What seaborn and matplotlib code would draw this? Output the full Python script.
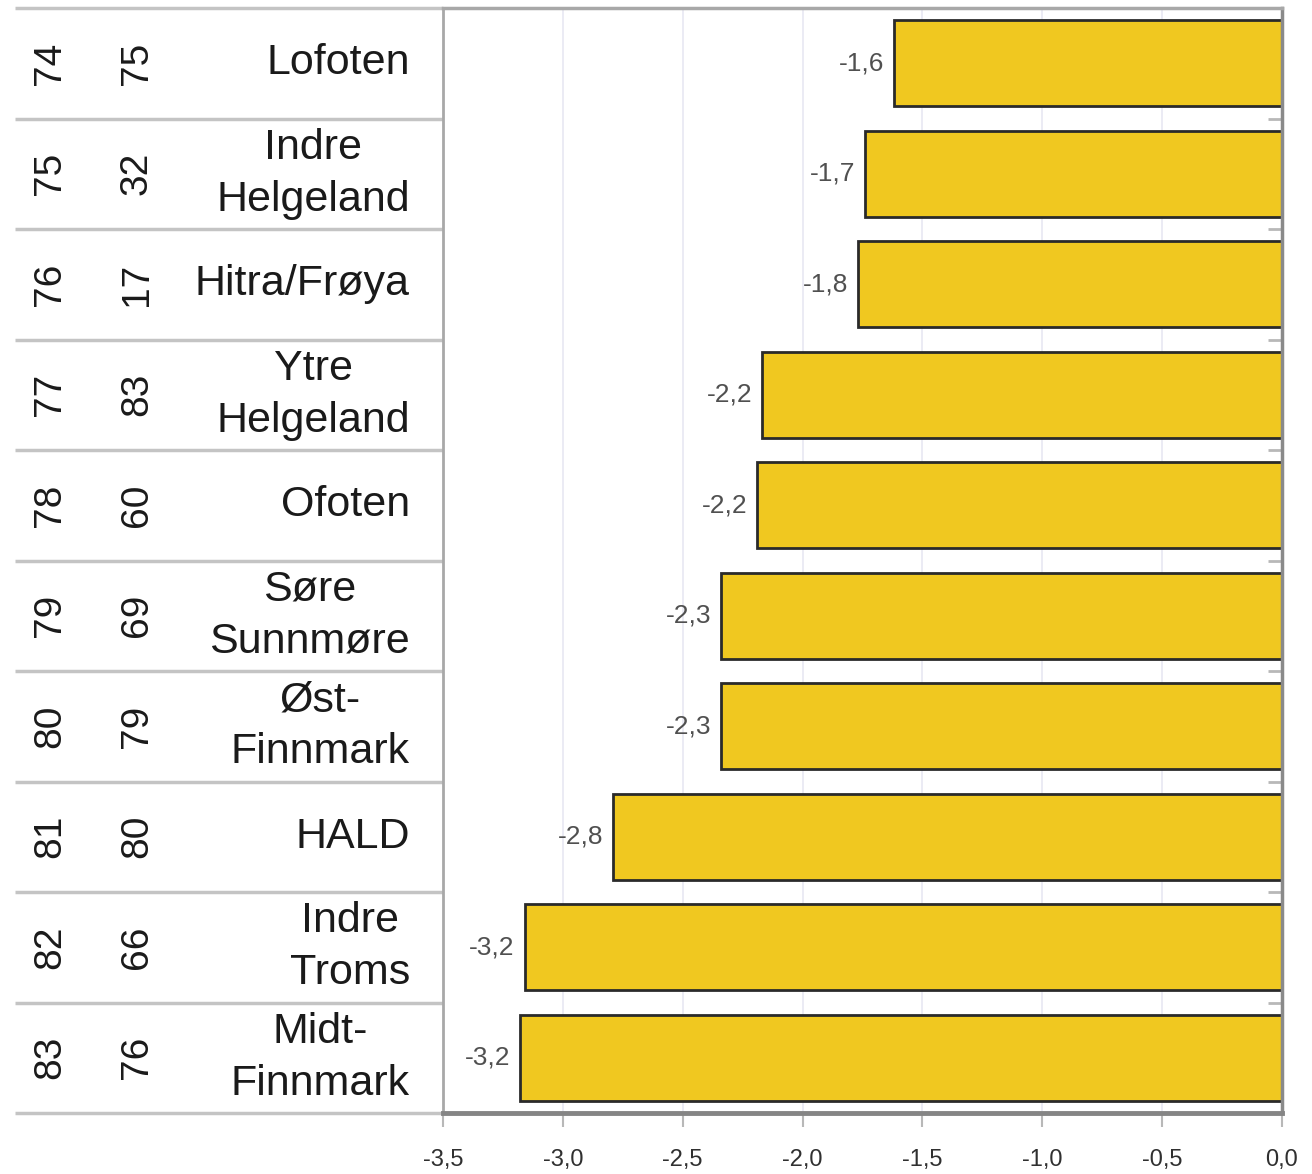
import matplotlib
matplotlib.use('Agg')
import matplotlib.pyplot as plt
import matplotlib.transforms as mtransforms
from matplotlib.ticker import FixedLocator
import seaborn as sns
import pandas as pd

regions = ['Lofoten', 'Indre\nHelgeland', 'Hitra/Frøya', 'Ytre\nHelgeland', 'Ofoten',
           'Søre\nSunnmøre', 'Øst-\nFinnmark', 'HALD', 'Indre\nTroms', 'Midt-\nFinnmark']
rank_a = [74, 75, 76, 77, 78, 79, 80, 81, 82, 83]
rank_b = [75, 32, 17, 83, 60, 69, 79, 80, 66, 76]
values = [-1.62, -1.74, -1.77, -2.17, -2.19, -2.34, -2.34, -2.79, -3.16, -3.18]
xticks = [-3.5, -3.0, -2.5, -2.0, -1.5, -1.0, -0.5, 0.0]

sns.set_style('white')
plt.rcParams['font.family'] = ['Liberation Sans', 'DejaVu Sans']

df = pd.DataFrame({'region': regions, 'value': values})

fig = plt.figure(figsize=(13.12, 11.74), dpi=100)
ax = fig.add_axes([443 / 1312, 1 - 1113 / 1174, 839 / 1312, 1105 / 1174])

sns.barplot(data=df, x='value', y='region', orient='h', color='#F0C820',
            saturation=1, width=0.78, edgecolor='#2a2a2a', linewidth=2, ax=ax)

ax.set_xlim(-3.5, 0.0)
ax.set_ylim(9.5, -0.5)
ax.set_xticks(xticks)
ax.set_xticklabels([f'{t:.1f}'.replace('.', ',') for t in xticks],
                   fontsize=17, color='#303030')
ax.set_xlabel('')
ax.set_ylabel('')
ax.set_yticks([])
ax.yaxis.set_minor_locator(FixedLocator([i + 0.5 for i in range(9)]))
ax.tick_params(axis='y', which='minor', left=False, right=True, direction='in',
               length=10, width=2, color='#b8b8b8')
ax.tick_params(axis='x', which='major', bottom=True, direction='out', length=10,
               width=1.5, color='#b8b8b8', pad=16)
ax.set_axisbelow(True)
ax.grid(axis='x', color='#e8e8f2', linewidth=1.2)

for side, col, lw in [('left', '#a8a8a8', 2), ('right', '#8a8a8a', 2.5),
                      ('top', '#a8a8a8', 2.5), ('bottom', '#858585', 3.5)]:
    ax.spines[side].set_visible(True)
    ax.spines[side].set_color(col)
    ax.spines[side].set_linewidth(lw)

# value labels left of the bars
for i, v in enumerate(values):
    ax.annotate(f'{v:.1f}'.replace('.', ','), (v, i), xytext=(-7, 0),
                textcoords='offset points', ha='right', va='center',
                fontsize=19, color='#505050')

# left table: rank columns, names and separators
tr = mtransforms.blended_transform_factory(ax.transAxes, ax.transData)
x0 = (15 - 443) / 839
xa = (50 - 443) / 839
xb = (137 - 443) / 839
xn = (410 - 443) / 839
for i in range(len(regions)):
    ax.text(xa, i, str(rank_a[i]), transform=tr, rotation=90, ha='center',
            va='center', fontsize=28, color='#1a1a1a')
    ax.text(xb, i, str(rank_b[i]), transform=tr, rotation=90, ha='center',
            va='center', fontsize=28, color='#1a1a1a')
    ax.text(xn, i, regions[i], transform=tr, ha='right', va='center',
            multialignment='center', fontsize=31, color='#1a1a1a', linespacing=1.4)
for k in range(len(regions) + 1):
    ax.plot([x0, 0], [k - 0.5, k - 0.5], transform=tr, color='#c4c4c4',
            linewidth=2.5, clip_on=False, solid_capstyle='butt')

fig.savefig('out.png', dpi=100)
